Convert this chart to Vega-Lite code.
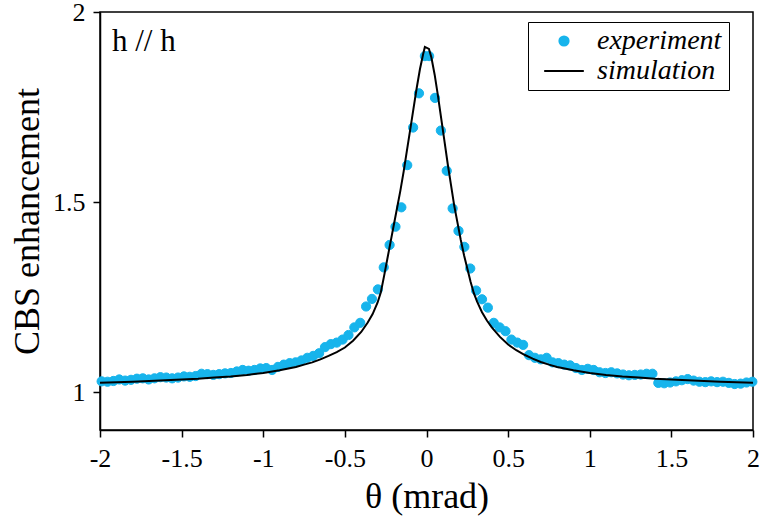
{
  "$schema": "https://vega.github.io/schema/vega-lite/v6.json",
  "width": 653,
  "height": 418,
  "autosize": {"type": "none"},
  "padding": {"left": 100, "top": 12, "right": 7, "bottom": 95},
  "background": "white",
  "title": {
    "text": "h // h", "anchor": "start", "frame": "group", "orient": "top",
    "offset": -38, "dx": 12, "dy": 45, "baseline": "alphabetic",
    "font": "Liberation Serif", "fontSize": 31, "fontWeight": "normal", "color": "black"
  },
  "config": {
    "font": "Liberation Serif",
    "view": {"stroke": "black", "strokeWidth": 1.5},
    "axis": {
      "domainColor": "black", "domainWidth": 1.5,
      "tickColor": "black", "tickWidth": 1.5, "tickSize": 7,
      "labelColor": "black", "titleColor": "black", "grid": false,
      "labelFont": "Liberation Serif", "titleFont": "Liberation Serif",
      "labelFontSize": 26, "titleFontSize": 36, "titleFontWeight": "normal",
      "labelFlush": false, "labelOverlap": false
    },
    "legend": {
      "labelFont": "Liberation Serif", "labelFontSize": 28, "labelFontStyle": "italic", "labelColor": "black"
    }
  },
  "datasets": {
    "experiment": [
      {"theta": -1.990, "cbs": 1.028, "series": "experiment"},
      {"theta": -1.954, "cbs": 1.027, "series": "experiment"},
      {"theta": -1.918, "cbs": 1.029, "series": "experiment"},
      {"theta": -1.882, "cbs": 1.033, "series": "experiment"},
      {"theta": -1.846, "cbs": 1.030, "series": "experiment"},
      {"theta": -1.810, "cbs": 1.032, "series": "experiment"},
      {"theta": -1.774, "cbs": 1.035, "series": "experiment"},
      {"theta": -1.738, "cbs": 1.036, "series": "experiment"},
      {"theta": -1.702, "cbs": 1.033, "series": "experiment"},
      {"theta": -1.666, "cbs": 1.036, "series": "experiment"},
      {"theta": -1.630, "cbs": 1.039, "series": "experiment"},
      {"theta": -1.594, "cbs": 1.038, "series": "experiment"},
      {"theta": -1.558, "cbs": 1.036, "series": "experiment"},
      {"theta": -1.522, "cbs": 1.038, "series": "experiment"},
      {"theta": -1.486, "cbs": 1.041, "series": "experiment"},
      {"theta": -1.450, "cbs": 1.040, "series": "experiment"},
      {"theta": -1.414, "cbs": 1.042, "series": "experiment"},
      {"theta": -1.378, "cbs": 1.048, "series": "experiment"},
      {"theta": -1.342, "cbs": 1.047, "series": "experiment"},
      {"theta": -1.306, "cbs": 1.045, "series": "experiment"},
      {"theta": -1.270, "cbs": 1.047, "series": "experiment"},
      {"theta": -1.234, "cbs": 1.049, "series": "experiment"},
      {"theta": -1.198, "cbs": 1.050, "series": "experiment"},
      {"theta": -1.162, "cbs": 1.054, "series": "experiment"},
      {"theta": -1.126, "cbs": 1.058, "series": "experiment"},
      {"theta": -1.090, "cbs": 1.056, "series": "experiment"},
      {"theta": -1.054, "cbs": 1.058, "series": "experiment"},
      {"theta": -1.018, "cbs": 1.062, "series": "experiment"},
      {"theta": -0.982, "cbs": 1.063, "series": "experiment"},
      {"theta": -0.946, "cbs": 1.058, "series": "experiment"},
      {"theta": -0.910, "cbs": 1.066, "series": "experiment"},
      {"theta": -0.874, "cbs": 1.072, "series": "experiment"},
      {"theta": -0.838, "cbs": 1.076, "series": "experiment"},
      {"theta": -0.802, "cbs": 1.078, "series": "experiment"},
      {"theta": -0.766, "cbs": 1.083, "series": "experiment"},
      {"theta": -0.730, "cbs": 1.090, "series": "experiment"},
      {"theta": -0.694, "cbs": 1.095, "series": "experiment"},
      {"theta": -0.658, "cbs": 1.102, "series": "experiment"},
      {"theta": -0.622, "cbs": 1.118, "series": "experiment"},
      {"theta": -0.586, "cbs": 1.126, "series": "experiment"},
      {"theta": -0.550, "cbs": 1.130, "series": "experiment"},
      {"theta": -0.514, "cbs": 1.138, "series": "experiment"},
      {"theta": -0.478, "cbs": 1.150, "series": "experiment"},
      {"theta": -0.442, "cbs": 1.170, "series": "experiment"},
      {"theta": -0.406, "cbs": 1.182, "series": "experiment"},
      {"theta": -0.370, "cbs": 1.225, "series": "experiment"},
      {"theta": -0.334, "cbs": 1.245, "series": "experiment"},
      {"theta": -0.298, "cbs": 1.270, "series": "experiment"},
      {"theta": -0.262, "cbs": 1.328, "series": "experiment"},
      {"theta": -0.226, "cbs": 1.387, "series": "experiment"},
      {"theta": -0.190, "cbs": 1.435, "series": "experiment"},
      {"theta": -0.154, "cbs": 1.486, "series": "experiment"},
      {"theta": -0.118, "cbs": 1.597, "series": "experiment"},
      {"theta": -0.082, "cbs": 1.696, "series": "experiment"},
      {"theta": -0.046, "cbs": 1.786, "series": "experiment"},
      {"theta": -0.010, "cbs": 1.884, "series": "experiment"},
      {"theta": 0.016, "cbs": 1.884, "series": "experiment"},
      {"theta": 0.052, "cbs": 1.774, "series": "experiment"},
      {"theta": 0.088, "cbs": 1.688, "series": "experiment"},
      {"theta": 0.124, "cbs": 1.582, "series": "experiment"},
      {"theta": 0.160, "cbs": 1.483, "series": "experiment"},
      {"theta": 0.196, "cbs": 1.424, "series": "experiment"},
      {"theta": 0.232, "cbs": 1.382, "series": "experiment"},
      {"theta": 0.268, "cbs": 1.325, "series": "experiment"},
      {"theta": 0.304, "cbs": 1.267, "series": "experiment"},
      {"theta": 0.340, "cbs": 1.244, "series": "experiment"},
      {"theta": 0.376, "cbs": 1.222, "series": "experiment"},
      {"theta": 0.412, "cbs": 1.182, "series": "experiment"},
      {"theta": 0.448, "cbs": 1.170, "series": "experiment"},
      {"theta": 0.484, "cbs": 1.160, "series": "experiment"},
      {"theta": 0.520, "cbs": 1.138, "series": "experiment"},
      {"theta": 0.556, "cbs": 1.130, "series": "experiment"},
      {"theta": 0.592, "cbs": 1.124, "series": "experiment"},
      {"theta": 0.628, "cbs": 1.097, "series": "experiment"},
      {"theta": 0.664, "cbs": 1.090, "series": "experiment"},
      {"theta": 0.700, "cbs": 1.086, "series": "experiment"},
      {"theta": 0.736, "cbs": 1.090, "series": "experiment"},
      {"theta": 0.772, "cbs": 1.078, "series": "experiment"},
      {"theta": 0.808, "cbs": 1.076, "series": "experiment"},
      {"theta": 0.844, "cbs": 1.072, "series": "experiment"},
      {"theta": 0.880, "cbs": 1.070, "series": "experiment"},
      {"theta": 0.916, "cbs": 1.063, "series": "experiment"},
      {"theta": 0.952, "cbs": 1.058, "series": "experiment"},
      {"theta": 0.988, "cbs": 1.061, "series": "experiment"},
      {"theta": 1.024, "cbs": 1.058, "series": "experiment"},
      {"theta": 1.060, "cbs": 1.052, "series": "experiment"},
      {"theta": 1.096, "cbs": 1.050, "series": "experiment"},
      {"theta": 1.132, "cbs": 1.052, "series": "experiment"},
      {"theta": 1.168, "cbs": 1.049, "series": "experiment"},
      {"theta": 1.204, "cbs": 1.046, "series": "experiment"},
      {"theta": 1.240, "cbs": 1.044, "series": "experiment"},
      {"theta": 1.276, "cbs": 1.045, "series": "experiment"},
      {"theta": 1.312, "cbs": 1.046, "series": "experiment"},
      {"theta": 1.348, "cbs": 1.048, "series": "experiment"},
      {"theta": 1.384, "cbs": 1.048, "series": "experiment"},
      {"theta": 1.420, "cbs": 1.024, "series": "experiment"},
      {"theta": 1.456, "cbs": 1.023, "series": "experiment"},
      {"theta": 1.492, "cbs": 1.025, "series": "experiment"},
      {"theta": 1.528, "cbs": 1.028, "series": "experiment"},
      {"theta": 1.564, "cbs": 1.031, "series": "experiment"},
      {"theta": 1.600, "cbs": 1.034, "series": "experiment"},
      {"theta": 1.636, "cbs": 1.030, "series": "experiment"},
      {"theta": 1.672, "cbs": 1.027, "series": "experiment"},
      {"theta": 1.708, "cbs": 1.026, "series": "experiment"},
      {"theta": 1.744, "cbs": 1.028, "series": "experiment"},
      {"theta": 1.780, "cbs": 1.026, "series": "experiment"},
      {"theta": 1.816, "cbs": 1.027, "series": "experiment"},
      {"theta": 1.852, "cbs": 1.024, "series": "experiment"},
      {"theta": 1.888, "cbs": 1.021, "series": "experiment"},
      {"theta": 1.924, "cbs": 1.022, "series": "experiment"},
      {"theta": 1.960, "cbs": 1.025, "series": "experiment"},
      {"theta": 1.996, "cbs": 1.027, "series": "experiment"}
    ],
    "simulation": [
      {"theta": -2.00, "cbs": 1.0245},
      {"theta": -1.90, "cbs": 1.0255},
      {"theta": -1.80, "cbs": 1.027},
      {"theta": -1.70, "cbs": 1.029},
      {"theta": -1.60, "cbs": 1.031},
      {"theta": -1.50, "cbs": 1.033},
      {"theta": -1.40, "cbs": 1.035},
      {"theta": -1.30, "cbs": 1.038},
      {"theta": -1.20, "cbs": 1.041},
      {"theta": -1.10, "cbs": 1.045},
      {"theta": -1.00, "cbs": 1.050},
      {"theta": -0.90, "cbs": 1.057},
      {"theta": -0.80, "cbs": 1.066},
      {"theta": -0.75, "cbs": 1.072},
      {"theta": -0.70, "cbs": 1.078},
      {"theta": -0.65, "cbs": 1.086},
      {"theta": -0.60, "cbs": 1.095},
      {"theta": -0.55, "cbs": 1.105},
      {"theta": -0.50, "cbs": 1.117},
      {"theta": -0.45, "cbs": 1.135},
      {"theta": -0.40, "cbs": 1.158},
      {"theta": -0.36, "cbs": 1.183},
      {"theta": -0.33, "cbs": 1.205},
      {"theta": -0.30, "cbs": 1.235},
      {"theta": -0.28, "cbs": 1.262},
      {"theta": -0.26, "cbs": 1.305},
      {"theta": -0.24, "cbs": 1.350},
      {"theta": -0.22, "cbs": 1.395},
      {"theta": -0.20, "cbs": 1.440},
      {"theta": -0.18, "cbs": 1.485},
      {"theta": -0.16, "cbs": 1.530},
      {"theta": -0.14, "cbs": 1.580},
      {"theta": -0.12, "cbs": 1.635},
      {"theta": -0.10, "cbs": 1.690},
      {"theta": -0.08, "cbs": 1.745},
      {"theta": -0.06, "cbs": 1.800},
      {"theta": -0.04, "cbs": 1.850},
      {"theta": -0.02, "cbs": 1.890},
      {"theta": -0.01, "cbs": 1.908},
      {"theta": 0.015, "cbs": 1.903},
      {"theta": 0.03, "cbs": 1.880},
      {"theta": 0.05, "cbs": 1.835},
      {"theta": 0.07, "cbs": 1.780},
      {"theta": 0.09, "cbs": 1.720},
      {"theta": 0.11, "cbs": 1.660},
      {"theta": 0.13, "cbs": 1.600},
      {"theta": 0.15, "cbs": 1.545},
      {"theta": 0.17, "cbs": 1.490},
      {"theta": 0.19, "cbs": 1.445},
      {"theta": 0.21, "cbs": 1.400},
      {"theta": 0.23, "cbs": 1.360},
      {"theta": 0.25, "cbs": 1.325},
      {"theta": 0.27, "cbs": 1.290},
      {"theta": 0.29, "cbs": 1.260},
      {"theta": 0.31, "cbs": 1.238},
      {"theta": 0.34, "cbs": 1.210},
      {"theta": 0.37, "cbs": 1.188},
      {"theta": 0.40, "cbs": 1.170},
      {"theta": 0.45, "cbs": 1.145},
      {"theta": 0.50, "cbs": 1.125},
      {"theta": 0.55, "cbs": 1.110},
      {"theta": 0.60, "cbs": 1.098},
      {"theta": 0.65, "cbs": 1.088},
      {"theta": 0.70, "cbs": 1.079},
      {"theta": 0.75, "cbs": 1.072},
      {"theta": 0.80, "cbs": 1.066},
      {"theta": 0.90, "cbs": 1.057},
      {"theta": 1.00, "cbs": 1.050},
      {"theta": 1.10, "cbs": 1.045},
      {"theta": 1.20, "cbs": 1.041},
      {"theta": 1.30, "cbs": 1.038},
      {"theta": 1.40, "cbs": 1.035},
      {"theta": 1.50, "cbs": 1.033},
      {"theta": 1.60, "cbs": 1.031},
      {"theta": 1.70, "cbs": 1.029},
      {"theta": 1.80, "cbs": 1.027},
      {"theta": 1.90, "cbs": 1.0255},
      {"theta": 2.00, "cbs": 1.0245}
    ]
  },
  "encoding": {
    "x": {
      "field": "theta", "type": "quantitative",
      "scale": {"domain": [-2, 2], "nice": false, "zero": false},
      "axis": {"title": "θ (mrad)", "values": [-2, -1.5, -1, -0.5, 0, 0.5, 1, 1.5, 2], "labelExpr": "'' + datum.value", "labelPadding": 8, "titlePadding": 8}
    },
    "y": {
      "field": "cbs", "type": "quantitative",
      "scale": {"domain": [0.9, 2], "nice": false, "zero": false},
      "axis": {"title": "CBS enhancement", "values": [1, 1.5, 2], "labelExpr": "'' + datum.value", "labelPadding": 8, "titlePadding": 6}
    }
  },
  "layer": [
    {
      "data": {"values": [{}]},
      "mark": {"type": "rule", "color": "#17b4ec", "strokeWidth": 1.5},
      "encoding": {"y": {"datum": 1, "type": "quantitative"}, "x": null}
    },
    {
      "data": {"values": [{}]},
      "mark": {"type": "rule", "color": "black", "strokeWidth": 1, "strokeDash": [5, 4]},
      "encoding": {"y": {"datum": 1, "type": "quantitative"}, "x": null}
    },
    {
      "data": {"name": "experiment"},
      "mark": {"type": "point", "filled": true, "size": 85, "opacity": 1, "strokeWidth": 1},
      "encoding": {
        "color": {
          "field": "series", "type": "nominal",
          "scale": {"domain": ["experiment", "simulation"], "range": ["#17b4ec", "black"]},
          "legend": {
            "title": "\u2003", "titleOrient": "right", "titleFontSize": 20, "titlePadding": 3,
            "orient": "none", "legendX": 428, "legendY": 10,
            "padding": 5, "symbolOffset": 17, "labelOffset": 19, "rowPadding": 2,
            "symbolSize": 85, "symbolStrokeWidth": 2,
            "strokeColor": "black"
          }
        },
        "stroke": {
          "field": "series", "type": "nominal",
          "scale": {"domain": ["experiment", "simulation"], "range": ["#17b4ec", "black"]}
        },
        "shape": {
          "field": "series", "type": "nominal",
          "scale": {"domain": ["experiment", "simulation"], "range": ["circle", "M-4.3,0L4.3,0"]}
        }
      }
    },
    {
      "data": {"name": "simulation"},
      "mark": {"type": "line", "color": "black", "strokeWidth": 2},
      "encoding": {}
    }
  ]
}
